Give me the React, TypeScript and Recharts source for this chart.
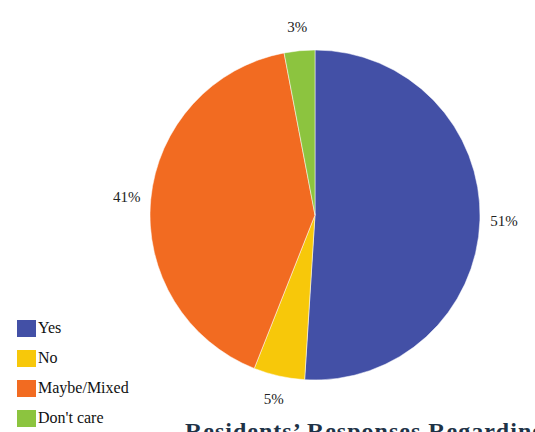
import React from 'react'
import { PieChart, Pie, Cell, Legend } from 'recharts'

const categories = ['Yes', 'No', 'Maybe/Mixed', "Don't care"]
const shares = [51, 5, 41, 3]
const COLORS = ['#4350A6', '#F7C80A', '#F26B21', '#8CC43F']

const data = categories.map((name, i) => ({ name, value: shares[i] }))

const RAD = Math.PI / 180
const SERIF = '"Times New Roman", "Liberation Serif", "DejaVu Serif", serif'

// percent labels sitting just outside the rim
const renderLabel = (props: any) => {
  const { cx, cy, midAngle, outerRadius, value } = props
  const r = outerRadius + 24
  const x = cx + r * Math.cos(-midAngle * RAD)
  const y = cy + r * Math.sin(-midAngle * RAD)
  return (
    <text
      x={x}
      y={y}
      fill="#222"
      textAnchor="middle"
      dominantBaseline="central"
      style={{ fontFamily: SERIF, fontSize: 15 }}
    >
      {`${value}%`}
    </text>
  )
}

const LegendBox = () => (
  <div style={{ fontFamily: SERIF, fontSize: 16, color: '#111' }}>
    {categories.map((name, i) => (
      <div key={name} style={{ display: 'flex', alignItems: 'center', height: 30 }}>
        <span
          style={{
            display: 'inline-block',
            width: 19,
            height: 17,
            background: COLORS[i],
            marginRight: 2,
          }}
        />
        <span style={{ fontFamily: SERIF }}>{name}</span>
      </div>
    ))}
  </div>
)

const App: React.FC = () => {
  return (
    <div style={{ position: 'relative', width: 535, height: 432, overflow: 'hidden', background: '#fff', fontFamily: SERIF }}>
      <style>{'body{margin:0}'}</style>
      <PieChart width={535} height={432} style={{ fontFamily: SERIF }}>
        <Pie
          data={data}
          cx={310}
          cy={210}
          outerRadius={165}
          startAngle={90}
          endAngle={-270}
          dataKey="value"
          labelLine={false}
          label={renderLabel}
          stroke="#ffffff"
          strokeWidth={0.5}
          isAnimationActive={false}
        >
          {data.map((_, index) => (
            <Cell key={`cell-${index}`} fill={COLORS[index % COLORS.length]} />
          ))}
        </Pie>
        <Legend
          content={() => <LegendBox />}
          wrapperStyle={{ position: 'absolute', left: 17, top: 313, width: 'auto' }}
        />
      </PieChart>
      <div
        style={{
          position: 'absolute',
          left: 185,
          top: 418,
          whiteSpace: 'nowrap',
          fontWeight: 'bold',
          fontSize: 24,
          letterSpacing: 1,
          color: '#1E3347',
        }}
      >
        Residents’ Responses Regarding Health Impacts
      </div>
    </div>
  )
}

export default App
